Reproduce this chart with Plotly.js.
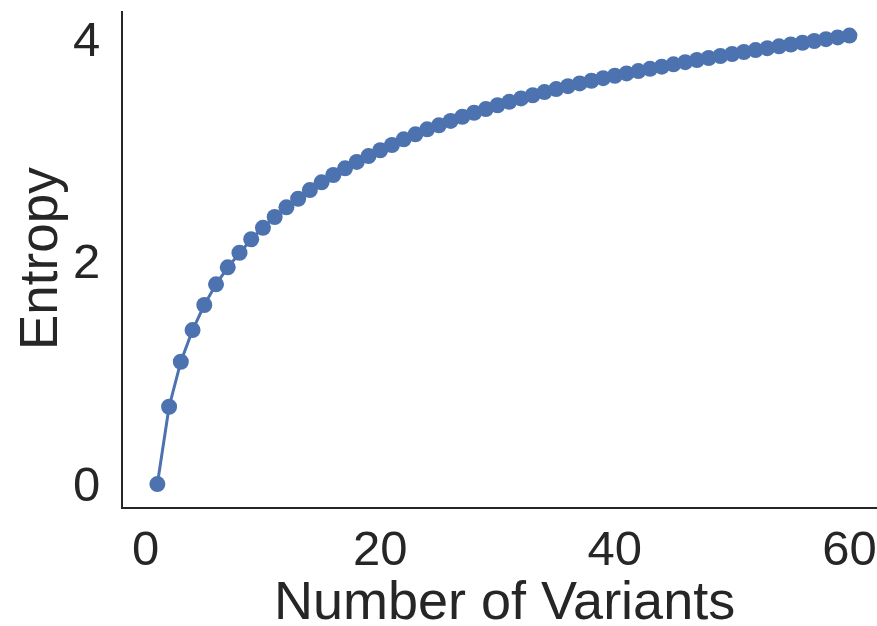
<!DOCTYPE html>
<html>
<head>
<meta charset="utf-8">
<script src="https://cdn.plot.ly/plotly-3.0.1.min.js"></script>
<style>html,body{margin:0;padding:0;background:#fff;}#chart{width:877px;height:626px;}</style>
</head>
<body>
<div id="chart"></div>
<script>
// Number of variants (x) and entropy values (y)
const variants = [1,2,3,4,5,6,7,8,9,10,11,12,13,14,15,16,17,18,19,20,
  21,22,23,24,25,26,27,28,29,30,31,32,33,34,35,36,37,38,39,40,
  41,42,43,44,45,46,47,48,49,50,51,52,53,54,55,56,57,58,59,60];
const entropy = [0.000,0.694,1.098,1.382,1.607,1.793,1.945,2.076,2.197,2.300,
  2.397,2.484,2.561,2.639,2.708,2.774,2.834,2.891,2.944,2.996,
  3.043,3.094,3.139,3.184,3.220,3.259,3.297,3.333,3.366,3.400,
  3.431,3.461,3.490,3.518,3.545,3.571,3.596,3.620,3.643,3.665,
  3.686,3.707,3.727,3.746,3.767,3.787,3.806,3.824,3.842,3.860,
  3.878,3.895,3.912,3.929,3.945,3.961,3.977,3.993,4.009,4.025];
const xTicks = [0, 20, 40, 60];
const yTicks = [0, 2, 4];
const xLabel = "Number of Variants";
const yLabel = "Entropy";

const ink = "#262626";
const fontFam = "Liberation Sans, Arial, sans-serif";

const trace = {
  x: variants, y: entropy, type: "scatter", mode: "lines+markers",
  line: {color: "#4C72B0", width: 3},
  marker: {color: "#4C72B0", size: 16},
  hoverinfo: "skip", showlegend: false
};

const layout = {
  width: 877, height: 626,
  margin: {l: 123, r: 0, t: 11, b: 119, pad: 0},
  paper_bgcolor: "#ffffff", plot_bgcolor: "#ffffff",
  font: {family: fontFam, color: ink},
  xaxis: {
    range: [-1.93, 62.35], tickvals: xTicks, ticktext: xTicks.map(String),
    showgrid: false, zeroline: false, ticks: "",
    showline: true, linecolor: ink, linewidth: 2, mirror: false,
    tickfont: {size: 49, color: ink, family: fontFam},
    ticklabelstandoff: -3,
    automargin: false
  },
  yaxis: {
    range: [-0.206, 4.246], tickvals: yTicks, ticktext: yTicks.map(String),
    showgrid: false, zeroline: false, ticks: "",
    showline: true, linecolor: ink, linewidth: 2, mirror: false,
    tickfont: {size: 49, color: ink, family: fontFam},
    ticklabelstandoff: 11,
    automargin: false
  },
  annotations: [
    {text: xLabel, xref: "paper", yref: "paper", x: 0.5, y: -0.1935,
     xanchor: "center", yanchor: "middle", xshift: 4, yshift: 3, showarrow: false,
     font: {size: 54, color: ink, family: fontFam}},
    {text: yLabel, xref: "paper", yref: "paper", x: -0.1127, y: 0.5,
     xanchor: "center", yanchor: "middle", textangle: -90, showarrow: false,
     font: {size: 53, color: ink, family: fontFam}}
  ]
};

Plotly.newPlot("chart", [trace], layout, {displayModeBar: false, staticPlot: true});
</script>
</body>
</html>
